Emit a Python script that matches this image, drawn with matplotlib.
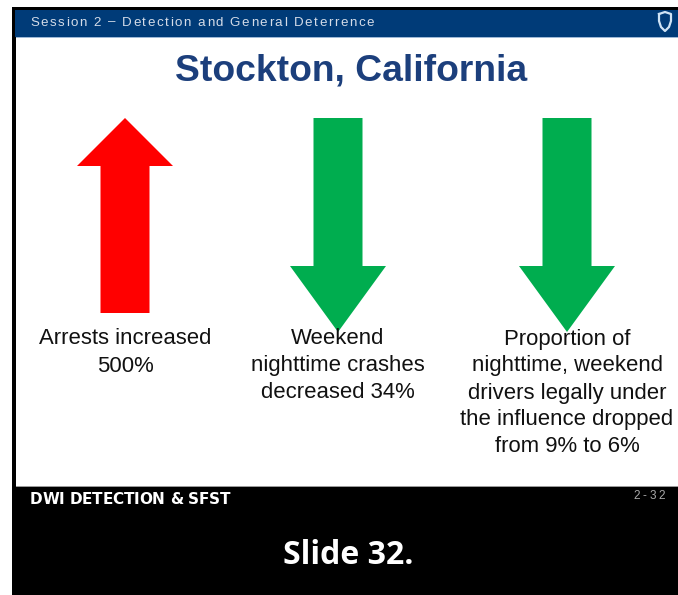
import numpy as np
import matplotlib
matplotlib.use('Agg')
import matplotlib.pyplot as plt
from matplotlib.patches import Polygon, Rectangle

# data on the slide
header = 'Session 2 \u2013 Detection and General Deterrence'
title = 'Stockton, California'
directions = ['up', 'down', 'down']
arrow_colors = ['#FF0000', '#00AD4F', '#00AD4F']
captions = [['Arrests increased', '500%'],
            ['Weekend', 'nighttime crashes', 'decreased 34%'],
            ['Proportion of', 'nighttime, weekend', 'drivers legally under',
             'the influence dropped', 'from 9% to 6%']]
footer_left = 'DWI DETECTION & SFST'
footer_right = '2-32'
caption_below = 'Slide 32.'

W, H = 678, 595
fig = plt.figure(figsize=(W/100, H/100), dpi=100)
ax = fig.add_axes((0, 0, 1, 1))
ax.set_xlim(0, W)
ax.set_ylim(H, 0)
ax.axis('off')
renderer = fig.canvas.get_renderer()


def spaced_text(s, x0, x1, y, **kw):
    # draw a string char by char so it fills x0..x1 (letter spacing)
    widths = []
    for ch in s:
        t = ax.text(0, 0, ch, **kw)
        widths.append(t.get_window_extent(renderer).width if ch != ' ' else None)
        t.remove()
    sp = ax.text(0, 0, 'n n', **kw)
    wsp = sp.get_window_extent(renderer).width
    sp.remove()
    sp = ax.text(0, 0, 'nn', **kw)
    wsp -= sp.get_window_extent(renderer).width
    sp.remove()
    widths = [w if w is not None else wsp for w in widths]
    gap = ((x1 - x0) - sum(widths)) / (len(s) - 1)
    x = x0
    for ch, w in zip(s, widths):
        ax.text(x, y, ch, ha='left', va='center', **kw)
        x += w + gap


# frame, header bar, white slide body
ax.add_patch(Rectangle((12, 7), W-12, H-7, color='black', lw=0))
ax.add_patch(Rectangle((15, 10), W-15, 27, color='#003B78', lw=0))
ax.add_patch(Rectangle((16, 37), W-16, 1.2, color='#9DB8D6', lw=0))
ax.add_patch(Rectangle((16, 38.2), W-16, 449, color='white', lw=0))
ax.add_patch(Rectangle((16, 486), W-16, 1.2, color='#9A9A9A', lw=0))

spaced_text(header, 30, 374, 22.5, color='#D5DCE8', fontsize=9.6,
            family='Liberation Sans')

# shield icon
sx = 665
ax.plot([sx-6, sx, sx+6, sx+6, sx+4, sx, sx-4, sx-6, sx-6],
        [14, 12, 14, 21, 27, 31, 27, 21, 14], color='#CFE3F5', lw=1.6,
        solid_joinstyle='round')

ax.text(351, 71, title, color='#1C3F7C', fontsize=26.8, fontweight='bold',
        family='Liberation Sans', ha='center', va='center')

# arrows
centers = [125, 338, 567]
top, bottom, tip = 118, 313, 332
head_half = 48
shaft_half = 24.5
for cx, d, c in zip(centers, directions, arrow_colors):
    if d == 'up':
        hb = top + 48
        pts = [(cx, top), (cx+head_half, hb), (cx+shaft_half, hb),
               (cx+shaft_half, bottom), (cx-shaft_half, bottom),
               (cx-shaft_half, hb), (cx-head_half, hb)]
    else:
        hb = tip - 66
        pts = [(cx, tip), (cx+head_half, hb), (cx+shaft_half, hb),
               (cx+shaft_half, top), (cx-shaft_half, top),
               (cx-shaft_half, hb), (cx-head_half, hb)]
    ax.add_patch(Polygon(pts, closed=True, color=c, lw=0))

for cx, lines in zip(centers, captions):
    for i, line in enumerate(lines):
        ax.text(cx, 339 + 27*i, line, fontsize=15.9, family='Liberation Sans',
                color='#111111', ha='center', va='center')

spaced_text(footer_left, 30, 230, 500, color='white', fontsize=11,
            fontweight='heavy', family='DejaVu Sans')
spaced_text(footer_right, 633, 665, 496, color='#A8A8A8', fontsize=8.5,
            family='Liberation Sans')
ax.text(348, 555, caption_below, color='white', fontsize=23, fontweight='bold',
        family='Open Sans', ha='center', va='center')

fig.savefig('out.png', dpi=100)
